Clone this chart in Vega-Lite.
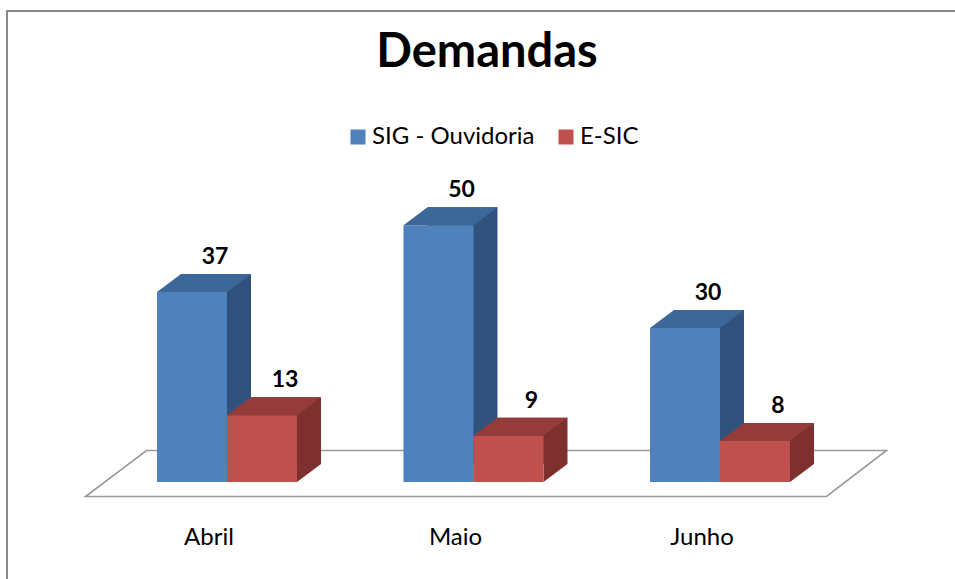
{
  "$schema": "https://vega.github.io/schema/vega-lite/v6.json",
  "width": 960,
  "height": 580,
  "autosize": {"type": "none"},
  "padding": {"left": 7, "top": 11, "right": 0, "bottom": 0},
  "background": "white",
  "config": {"view": {"stroke": "#8a8a8a", "strokeWidth": 2}},
  "title": {"text": "Demandas", "font": "Lato", "fontSize": 47, "fontWeight": "bold", "color": "black", "anchor": "middle", "frame": "group", "baseline": "alphabetic", "offset": -57, "dy": 46},
  "data": {"values": [
    {"month": "Abril", "series": "SIG - Ouvidoria", "value": 37},
    {"month": "Abril", "series": "E-SIC", "value": 13},
    {"month": "Maio", "series": "SIG - Ouvidoria", "value": 50},
    {"month": "Maio", "series": "E-SIC", "value": 9},
    {"month": "Junho", "series": "SIG - Ouvidoria", "value": 30},
    {"month": "Junho", "series": "E-SIC", "value": 8}
  ]},
  "encoding": {
    "x": {
      "field": "month", "type": "nominal", "sort": null,
      "scale": {"domain": ["Abril", "Maio", "Junho"], "paddingInner": 0.71602, "paddingOuter": 0.80527, "align": 0.3778, "round": false},
      "axis": {"domain": false, "ticks": false, "tickSize": 0, "grid": false, "title": null, "labelFont": "Lato", "labelFontSize": 24, "labelColor": "black", "labelPadding": -47, "labelBaseline": "alphabetic", "labelOffset": 17, "labelAngle": 0}
    },
    "y": {"field": "value", "type": "quantitative", "scale": {"domain": [-21.22, 91.69], "nice": false, "zero": false}, "axis": null}
  },
  "layer": [
    {
      "data": {"values": [{"month": "Maio", "value": 0}]},
      "mark": {"type": "point", "shape": "M-353,14.5L-292,-31.5L448,-31.5L388,14.5Z", "size": 4, "filled": true, "fill": "white", "stroke": "#9a9a9a", "strokeWidth": 1.6, "opacity": 1}
    },
    {
      "transform": [{"filter": "datum.series === 'SIG - Ouvidoria'"}],
      "mark": {"type": "bar", "color": "#31527d", "xOffset": 24, "x2Offset": 24, "yOffset": -18, "y2Offset": -18},
      "encoding": {"y2": {"datum": 0}}
    },
    {
      "transform": [{"filter": "datum.series === 'E-SIC'"}],
      "mark": {"type": "bar", "color": "#7d302e", "xOffset": 94, "x2Offset": 94, "yOffset": -18, "y2Offset": -18},
      "encoding": {"y2": {"datum": 0}}
    },
    {
      "transform": [{"filter": "datum.series === 'SIG - Ouvidoria'"}],
      "mark": {"type": "point", "shape": "M35,-18L35,0L59,-18Z", "size": 4, "filled": true, "color": "#31527d", "strokeWidth": 0, "opacity": 1},
      "encoding": {"y": {"datum": 0}}
    },
    {
      "transform": [{"filter": "datum.series === 'E-SIC'"}],
      "mark": {"type": "point", "shape": "M35,-18L35,0L59,-18Z", "size": 4, "filled": true, "color": "#7d302e", "strokeWidth": 0, "opacity": 1, "xOffset": 70},
      "encoding": {"y": {"datum": 0}}
    },
    {
      "transform": [{"filter": "datum.series === 'SIG - Ouvidoria'"}],
      "mark": {"type": "bar"},
      "encoding": {
        "y2": {"datum": 0},
        "color": {"field": "series", "type": "nominal", "scale": {"domain": ["SIG - Ouvidoria", "E-SIC"], "range": ["#4f81bd", "#c0504d"]},
          "legend": {"orient": "none", "legendX": 339, "legendY": 114, "direction": "horizontal", "title": null, "symbolType": "square", "symbolSize": 225, "symbolStrokeWidth": 0, "labelFont": "Lato", "labelFontSize": 24, "labelColor": "black", "labelOffset": 2, "labelLimit": 400, "columnPadding": 19, "padding": 0}}
      }
    },
    {
      "transform": [{"filter": "datum.series === 'E-SIC'"}],
      "mark": {"type": "bar", "xOffset": 70, "x2Offset": 70},
      "encoding": {
        "y2": {"datum": 0},
        "color": {"field": "series", "type": "nominal"}
      }
    },
    {
      "transform": [{"filter": "datum.series === 'SIG - Ouvidoria'"}],
      "mark": {"type": "point", "shape": "M-35,0L-11,-18L59,-18L35,0Z", "size": 4, "filled": true, "color": "#3c6899", "strokeWidth": 0, "opacity": 1}
    },
    {
      "transform": [{"filter": "datum.series === 'E-SIC'"}],
      "mark": {"type": "point", "shape": "M-35,0L-11,-18L59,-18L35,0Z", "size": 4, "filled": true, "color": "#953b39", "strokeWidth": 0, "opacity": 1, "xOffset": 70}
    },
    {
      "transform": [{"filter": "datum.series === 'SIG - Ouvidoria'"}],
      "mark": {"type": "text", "font": "Lato", "fontSize": 23, "fontWeight": "bold", "color": "black", "baseline": "middle", "dx": 23, "dy": -35},
      "encoding": {"text": {"field": "value", "type": "quantitative"}}
    },
    {
      "transform": [{"filter": "datum.series === 'E-SIC'"}],
      "mark": {"type": "text", "font": "Lato", "fontSize": 23, "fontWeight": "bold", "color": "black", "baseline": "middle", "dx": 93, "dy": -35},
      "encoding": {"text": {"field": "value", "type": "quantitative"}}
    }
  ]
}
